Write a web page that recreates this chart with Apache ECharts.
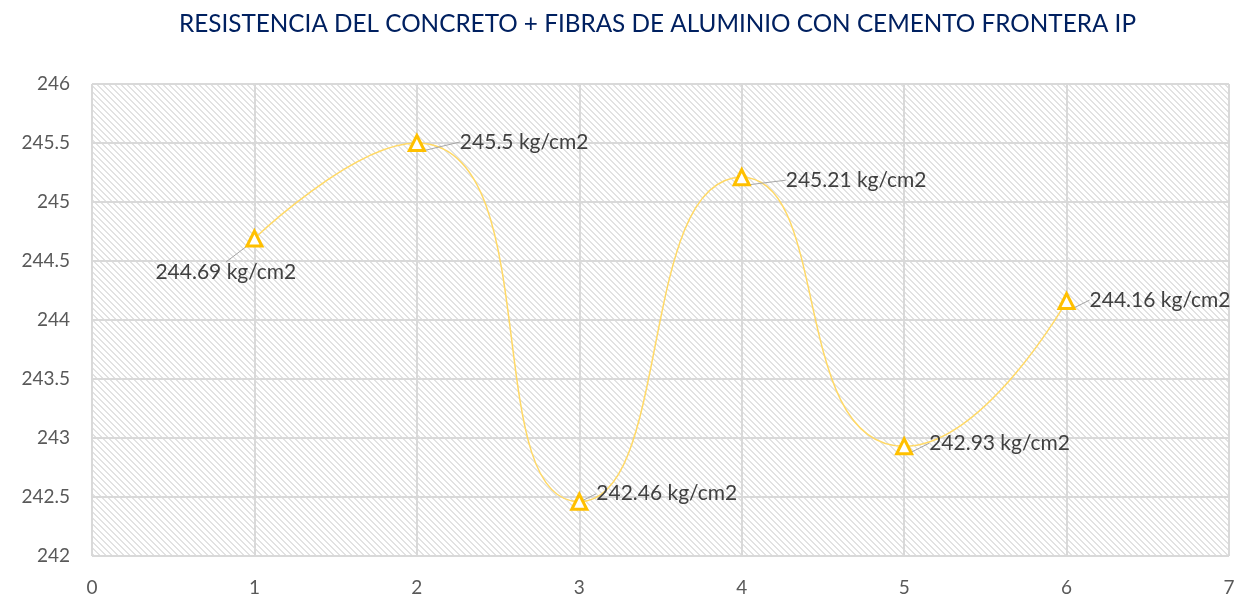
<!DOCTYPE html>
<html><head><meta charset="utf-8">
<script src="https://cdn.jsdelivr.net/npm/echarts@6/dist/echarts.min.js"></script>
<style>html,body{margin:0;padding:0;background:#fff}#c{width:1246px;height:598px}</style>
</head><body><div id="c"></div>
<script>
const titleText = 'RESISTENCIA DEL CONCRETO + FIBRAS DE ALUMINIO CON CEMENTO FRONTERA IP';
const xValues = [1, 2, 3, 4, 5, 6];
const yValues = [244.69, 245.5, 242.46, 245.21, 242.93, 244.16];
const unit = ' kg/cm2';
const labelShift = [[-113, 34], [29, -1], [3, -8], [30, 3], [11, -3], [9, -1]];

function makePattern() {
  const c = document.createElement('canvas');
  c.width = 6; c.height = 6;
  const ctx = c.getContext('2d');
  ctx.fillStyle = '#ffffff'; ctx.fillRect(0, 0, 6, 6);
  ctx.fillStyle = '#e2e2e2';
  for (let i = 0; i < 6; i++) {
    ctx.fillRect(i, i, 1, 1);
    ctx.fillRect((i + 1) % 6, i, 1, 1);
  }
  return c;
}

const chart = echarts.init(document.getElementById('c'));
const data = xValues.map((x, i) => [x, yValues[i]]);
chart.setOption({
  animation: false,
  title: {
    text: titleText, left: 174, top: 7,
    textStyle: { fontFamily: 'Lato', fontSize: 24.3, fontWeight: 'normal', color: '#002060' }
  },
  grid: {
    left: 92, right: 17, top: 84, bottom: 42,
    show: true, borderWidth: 0,
    backgroundColor: { image: makePattern(), repeat: 'repeat' }
  },
  xAxis: {
    type: 'value', min: 0, max: 7, interval: 1,
    axisLine: { show: false }, axisTick: { show: false },
    splitLine: { show: true, lineStyle: { color: '#d9d9d9', width: 2 } },
    axisLabel: { fontFamily: 'Lato', fontSize: 19, color: '#595959', margin: 22 }
  },
  yAxis: {
    type: 'value', min: 242, max: 246, interval: 0.5,
    axisLine: { show: false }, axisTick: { show: false },
    splitLine: { show: true, lineStyle: { color: '#d9d9d9', width: 2 } },
    axisLabel: { fontFamily: 'Lato', fontSize: 19, color: '#595959', margin: 22 }
  },
  series: [{
    type: 'line', smooth: 0.6, data: data,
    symbol: 'triangle', symbolSize: 15,
    lineStyle: { color: '#ffd966', width: 1.5 },
    itemStyle: { color: '#ffffff', borderColor: '#ffc000', borderWidth: 3 },
    label: {
      show: true, position: 'right', distance: 5,
      formatter: p => p.value[1] + unit,
      fontFamily: 'Lato', fontSize: 21, color: '#404040'
    },
    labelLine: { show: true, lineStyle: { color: '#a6a6a6', width: 1 } },
    labelLayout: p => ({ dx: labelShift[p.dataIndex][0], dy: labelShift[p.dataIndex][1] })
  }]
});
</script></body></html>
